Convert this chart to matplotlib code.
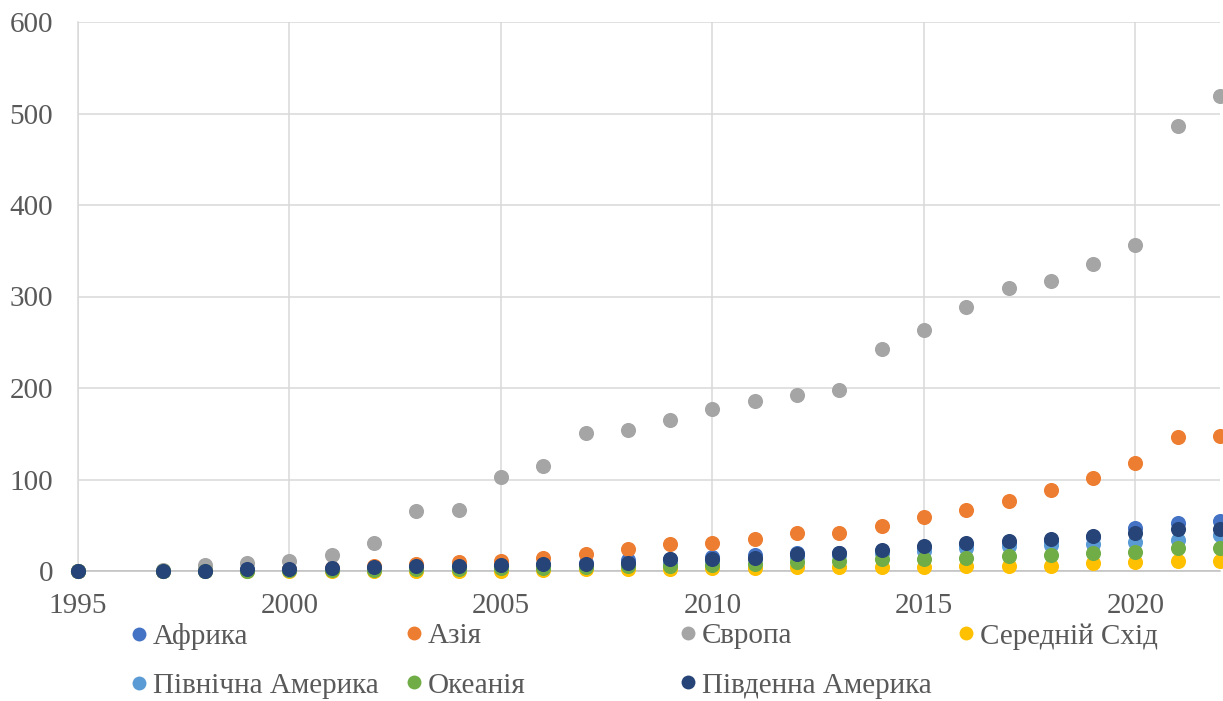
import matplotlib
matplotlib.use("Agg")
import matplotlib.pyplot as plt
from matplotlib.lines import Line2D

years = [1995, 1997, 1998, 1999, 2000, 2001, 2002, 2003, 2004, 2005, 2006, 2007, 2008,
         2009, 2010, 2011, 2012, 2013, 2014, 2015, 2016, 2017, 2018, 2019, 2020, 2021, 2022]

africa = [0, 0.5, 1, 1.5, 2, 2.5, 3, 4, 5, 6, 7, 9, 12, 13, 15, 17, 20, 20, 22, 25, 28,
          31, 33, 37, 47, 53, 55]
asia = [0, 0.5, 1, 1.5, 2, 3, 5.5, 8, 10, 10.5, 14, 18.5, 24, 29, 30.5, 35, 41, 42, 49,
        59, 67, 77, 88, 102, 118, 146, 147.5]
europe = [0, 1, 6.5, 9, 11, 17.5, 30.5, 66, 67, 103, 115, 151, 154, 165, 177, 186, 192,
          198, 243, 263, 289, 309, 317, 336, 356, 486, 519]
middle_east = [0, 0, 0, 0, 0, 0, 0, 0, 0, 0, 1, 2, 2, 2, 3, 3.5, 4, 4, 4.5, 4.5, 5, 5,
               5.5, 8.5, 9.5, 11, 10.5]
north_america = [0, 0, 0.5, 1, 1.5, 2, 2.5, 3, 3.5, 4, 5, 6, 7, 9, 11, 13, 15, 17, 20,
                 22, 25, 27, 28, 30, 32, 34, 39]
oceania = [0, 0, 0.5, 0.5, 1, 1, 1.5, 2, 2.5, 3, 3.5, 4, 5, 6, 7, 8, 9.5, 11, 13, 13.5,
           14, 16, 18, 19.5, 20.5, 25, 25]
south_america = [0.5, 0.5, 0, 2, 2, 3.5, 4, 5.5, 6, 6.5, 7.5, 8, 9, 13, 13, 14, 18.5, 20,
                 23, 27, 31, 33, 35, 38, 42, 46, 46]

series = [
    ("Африка", africa, "#4472C4"),
    ("Азія", asia, "#ED7D31"),
    ("Європа", europe, "#A5A5A5"),
    ("Середній Схід", middle_east, "#FFC000"),
    ("Північна Америка", north_america, "#5B9BD5"),
    ("Океанія", oceania, "#70AD47"),
    ("Південна Америка", south_america, "#264478"),
]

plt.rcParams["font.family"] = ["Liberation Serif", "DejaVu Serif"]
text_color = "#595959"

fig = plt.figure(figsize=(12.23, 7.01), dpi=100)
ax = fig.add_axes([78 / 1223, 130 / 701, (1220 - 78) / 1223, (571 - 22) / 701])

handles = []
for name, vals, col in series:
    ax.scatter(years, vals, s=118, color=col, linewidths=0, zorder=3, clip_on=False)
    handles.append(Line2D([], [], linestyle="none", marker="o", markersize=10,
                          markerfacecolor=col, markeredgewidth=0, label=name))

ax.set_xlim(1995, 2022)
ax.set_ylim(0, 600)
ax.set_xticks(range(1995, 2021, 5))
ax.set_yticks(range(0, 601, 100))
ax.grid(True, color="#D9D9D9", linewidth=1.1, zorder=0)
ax.set_axisbelow(True)
for s in ("top", "right"):
    ax.spines[s].set_visible(False)
ax.spines["left"].set_color("#D9D9D9")
ax.spines["left"].set_linewidth(1.1)
ax.spines["bottom"].set_color("#BFBFBF")
ax.spines["bottom"].set_linewidth(1.1)
ax.tick_params(axis="both", length=0, labelsize=21, labelcolor=text_color)
ax.tick_params(axis="y", pad=18)
ax.tick_params(axis="x", pad=16)

# Legend laid out as a 4-column grid with fixed column positions
col_x = [124, 399, 673, 951]
for c, x in enumerate(col_x):
    hs = [handles[c]]
    if c + 4 < len(handles):
        hs.append(handles[c + 4])
    fig.legend(handles=hs, loc="upper left",
               bbox_to_anchor=(x / 1223, 1 - 623 / 701),
               frameon=False, fontsize=21, handletextpad=0.0,
               handlelength=1.0, labelspacing=0.78, borderpad=0,
               borderaxespad=0, labelcolor=text_color)

fig.savefig("out.png", dpi=100)
